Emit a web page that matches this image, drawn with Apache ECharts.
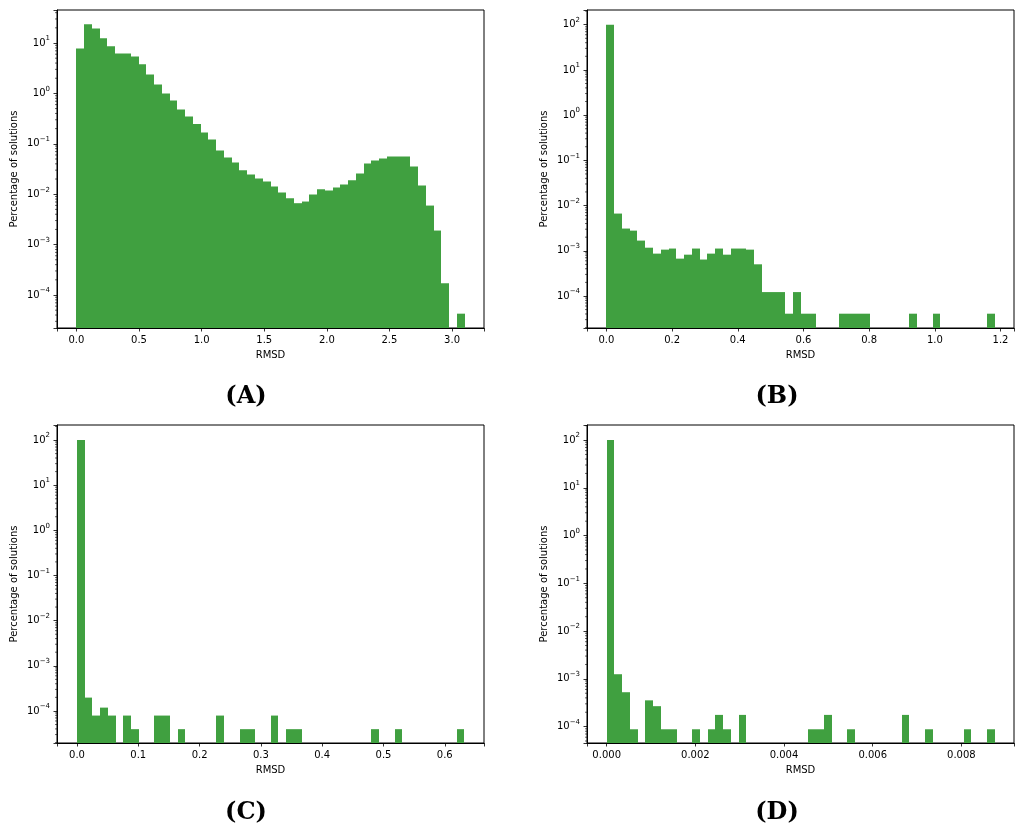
<!DOCTYPE html>
<html>
<head>
<meta charset="utf-8">
<title>RMSD histograms</title>
<script src="https://cdn.jsdelivr.net/npm/echarts@6.0.0/dist/echarts.min.js"></script>
<style>
  html, body { margin: 0; padding: 0; background: #fff; }
  #main { width: 1015px; height: 830px; }
</style>
</head>
<body>
<div id="main"></div>
<script>
// RMSD range covered by the 50 bins of each histogram
var binRangeA = [0, 3.10];
var binRangeB = [0, 1.182];
var binRangeC = [0, 0.632];
var binRangeD = [0, 0.00875];

// percentage of solutions in each bin (0 = empty bin)
var pctA = [7.8, 23.5, 19.5, 12.4, 8.6, 6.2, 6.2, 5.4, 3.77, 2.38,
  1.51, 1.0, 0.726, 0.481, 0.349, 0.246, 0.168, 0.122, 0.0738, 0.0535,
  0.0426, 0.030, 0.0246, 0.0205, 0.0179, 0.0142, 0.0108, 0.00833, 0.00663, 0.00715,
  0.00985, 0.01256, 0.0118, 0.01356, 0.01556, 0.019, 0.0257, 0.0407, 0.0467, 0.0512,
  0.056, 0.056, 0.056, 0.0355, 0.0149, 0.00595, 0.0019, 0.000171, 0, 4.26e-5];

var pctB = [99.97, 0.00665, 0.0031, 0.00279, 0.00168, 0.00117, 0.000865, 0.00106, 0.00112, 0.00067,
  0.00082, 0.00112, 0.00064, 0.000865, 0.00112, 0.00082, 0.00112, 0.00112, 0.00106, 0.000502,
  0.000122, 0.000122, 0.000122, 4.06e-5, 0.000122, 4.06e-5, 4.06e-5, 0, 0, 0,
  4.06e-5, 4.06e-5, 4.06e-5, 4.06e-5, 0, 0, 0, 0, 0, 4.06e-5,
  0, 0, 4.06e-5, 0, 0, 0, 0, 0, 0, 4.06e-5];

var pctC = [99.99, 1.975e-4, 7.9e-5, 1.185e-4, 7.9e-5, 0, 7.9e-5, 3.95e-5, 0, 0,
  7.9e-5, 7.9e-5, 0, 3.95e-5, 0, 0, 0, 0, 7.9e-5, 0,
  0, 3.95e-5, 3.95e-5, 0, 0, 7.9e-5, 0, 3.95e-5, 3.95e-5, 0,
  0, 0, 0, 0, 0, 0, 0, 0, 3.95e-5, 0,
  0, 3.95e-5, 0, 0, 0, 0, 0, 0, 0, 3.95e-5];

var pctD = [99.99, 0.00125, 0.000525, 8.8e-5, 0, 0.000355, 0.000268, 8.8e-5, 8.8e-5, 0,
  0, 8.8e-5, 0, 8.8e-5, 0.000176, 8.8e-5, 0, 0.000176, 0, 0,
  0, 0, 0, 0, 0, 0, 8.8e-5, 8.8e-5, 0.000176, 0,
  0, 8.8e-5, 0, 0, 0, 0, 0, 0, 0.000176, 0,
  0, 8.8e-5, 0, 0, 0, 0, 8.8e-5, 0, 0, 8.8e-5];

var panelTitles = ['(A)', '(B)', '(C)', '(D)'];

// layout of each panel
var panels = [
  { pct: pctA, range: binRangeA, grid: { left: 57, top: 10, width: 427, height: 318 },
    x: [-0.155, 3.255], split: 5, step: 0.5, dec: 1, yExp: [-4.655, 1.655], title: [246, 397] },
  { pct: pctB, range: binRangeB, grid: { left: 587, top: 10, width: 427, height: 318 },
    x: [-0.0591, 1.241], split: 6, step: 0.2, dec: 1, yExp: [-4.708, 2.325], title: [777, 397] },
  { pct: pctC, range: binRangeC, grid: { left: 57, top: 425, width: 427, height: 318 },
    x: [-0.0326, 0.664], split: 5, step: 0.1, dec: 1, yExp: [-4.710, 2.333], title: [246, 813] },
  { pct: pctD, range: binRangeD, grid: { left: 587, top: 425, width: 427, height: 318 },
    x: [-0.000444, 0.009187], split: 5, step: 0.002, dec: 3, yExp: [-4.343, 2.315], title: [777, 813] }
];

var FONT = 'DejaVu Sans';

function histItems(range, pct) {
  var w = (range[1] - range[0]) / pct.length;
  var items = [];
  for (var i = 0; i < pct.length; i++) {
    if (pct[i] > 0) items.push([range[0] + i * w, range[0] + (i + 1) * w, pct[i]]);
  }
  return items;
}

// log minor ticks 2..9 x 10^k inside the y range
function minorItems(p) {
  var items = [];
  for (var k = Math.floor(p.yExp[0]); k <= Math.ceil(p.yExp[1]); k++) {
    for (var m = 2; m <= 9; m++) {
      var v = m * Math.pow(10, k);
      var e = Math.log10(v);
      if (e > p.yExp[0] && e < p.yExp[1]) items.push([p.x[0], v]);
    }
  }
  return items;
}

function barRender(yMin) {
  return function (params, api) {
    var p0 = api.coord([api.value(0), api.value(2)]);
    var p1 = api.coord([api.value(1), yMin]);
    // snap the side edges to whole pixels so neighbouring bars join without seams
    var x0 = Math.round(p0[0]), x1 = Math.round(p1[0]);
    return {
      type: 'rect',
      shape: { x: x0, y: p0[1], width: x1 - x0, height: p1[1] - p0[1] },
      style: { fill: '#40a040' }
    };
  };
}

function minorRender(params, api) {
  var p = api.coord([api.value(0), api.value(1)]);
  return {
    type: 'line',
    shape: { x1: p[0] - 2, y1: p[1], x2: p[0], y2: p[1] },
    style: { stroke: '#000', lineWidth: 0.6 }
  };
}

function logLabel(v) {
  var e = Math.log10(v);
  var r = Math.round(e);
  if (Math.abs(e - r) > 1e-6) return '';
  return '{b|10}{s|' + (r < 0 ? '\u2212' + (-r) : r) + '}';
}

function xLabel(step, dec) {
  return function (v) {
    var q = v / step;
    if (Math.abs(q - Math.round(q)) > 1e-6) return '';
    return (Math.round(q) * step).toFixed(dec);
  };
}

var grids = [], xAxes = [], yAxes = [], series = [], graphics = [];

panels.forEach(function (p, i) {
  var yMin = Math.pow(10, p.yExp[0]);
  grids.push(Object.assign({ show: true, borderColor: '#000', borderWidth: 1,
    containLabel: false, outerBoundsMode: 'none' }, p.grid));
  xAxes.push({
    type: 'value', gridIndex: i, min: p.x[0], max: p.x[1], splitNumber: p.split,
    splitLine: { show: false },
    axisLine: { show: true, onZero: false, lineStyle: { color: '#000', width: 1 } },
    axisTick: { show: true, length: 3.5, lineStyle: { color: '#000', width: 0.8 } },
    axisLabel: { margin: 7, fontSize: 10, fontFamily: FONT, color: '#000',
      showMinLabel: true, showMaxLabel: true, formatter: xLabel(p.step, p.dec) },
    name: 'RMSD', nameLocation: 'middle', nameGap: 22,
    nameTextStyle: { fontSize: 10, fontFamily: FONT, color: '#000' }
  });
  yAxes.push({
    type: 'log', logBase: 10, gridIndex: i, min: yMin, max: Math.pow(10, p.yExp[1]),
    splitLine: { show: false },
    axisLine: { show: true, onZero: false, lineStyle: { color: '#000', width: 1 } },
    axisTick: { show: true, length: 3.5, lineStyle: { color: '#000', width: 0.8 } },
    axisLabel: {
      margin: 7, fontSize: 10, fontFamily: FONT, color: '#000', formatter: logLabel,
      rich: {
        b: { fontSize: 10, lineHeight: 16, fontFamily: FONT, color: '#000' },
        s: { fontSize: 7, lineHeight: 9, verticalAlign: 'top', fontFamily: FONT, color: '#000' }
      }
    },
    name: 'Percentage of solutions', nameLocation: 'middle', nameGap: 38,
    nameTextStyle: { fontSize: 10, fontFamily: FONT, color: '#000' }
  });
  series.push({
    type: 'custom', xAxisIndex: i, yAxisIndex: i, silent: true,
    renderItem: barRender(yMin), encode: { x: [0, 1], y: 2 },
    data: histItems(p.range, p.pct)
  });
  series.push({
    type: 'custom', xAxisIndex: i, yAxisIndex: i, silent: true, clip: false, z: 5,
    renderItem: minorRender, encode: { x: 0, y: 1 },
    data: minorItems(p)
  });
  graphics.push({
    type: 'text', x: p.title[0], y: p.title[1],
    style: { text: panelTitles[i], font: 'bold 24px "DejaVu Serif"', fill: '#000',
      align: 'center', verticalAlign: 'middle' }
  });
});

var myChart = echarts.init(document.getElementById('main'), null, { renderer: 'canvas' });
myChart.setOption({
  animation: false,
  backgroundColor: '#fff',
  grid: grids,
  xAxis: xAxes,
  yAxis: yAxes,
  series: series,
  graphic: graphics
});
</script>
</body>
</html>
